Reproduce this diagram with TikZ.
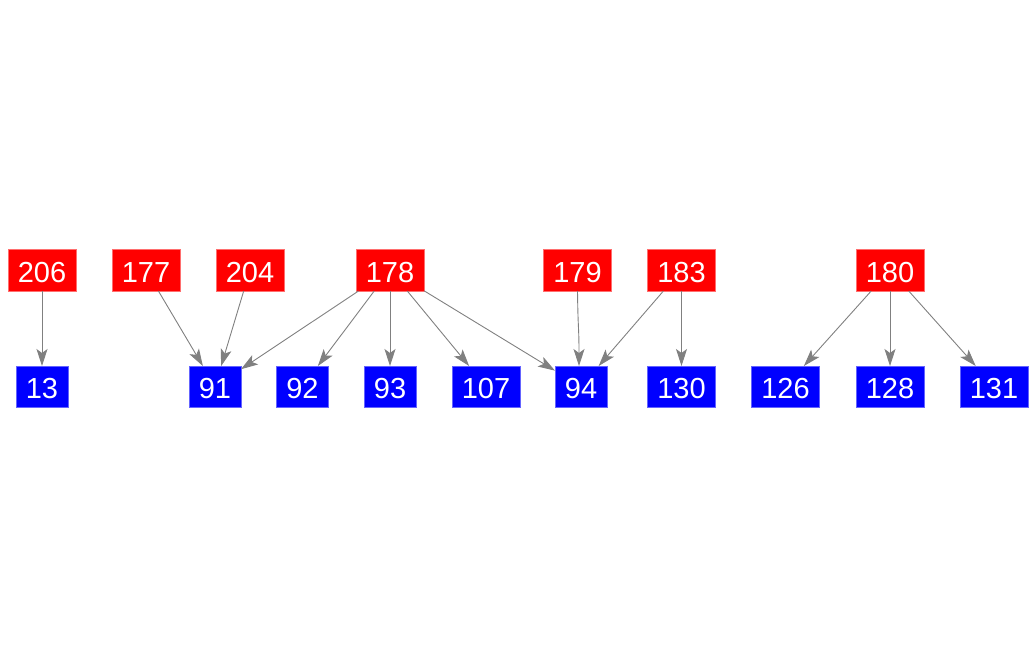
\documentclass[tikz,border=0pt]{standalone}
\usepackage{fontspec}
\setmainfont{Liberation Sans}
\usetikzlibrary{arrows.meta}
\tikzset{
  base/.style={inner sep=0pt, outer sep=0pt, text=white, font=\fontsize{29}{30}\selectfont, line width=0.6pt, text height=24pt, text depth=0pt},
  rednode/.style={base, fill={rgb,255:red,255;green,0;blue,0}, draw={rgb,255:red,255;green,110;blue,110}, minimum width=68pt, minimum height=42pt},
  bluewide/.style={base, fill={rgb,255:red,0;green,0;blue,255}, draw={rgb,255:red,100;green,100;blue,255}, minimum width=68pt, minimum height=41pt},
  bluenarrow/.style={bluewide, minimum width=52pt},
  conn/.style={draw={rgb,255:red,128;green,128;blue,128}, line width=0.9pt, -{Stealth[length=17pt,width=11pt,inset=4pt]}}
}
\begin{document}
\begin{tikzpicture}[x=1pt,y=-1pt]
\useasboundingbox (0,0) rectangle (1035,656);
\node[rednode] (n206) at (42,270) {206};
\node[rednode] (n177) at (146,270) {177};
\node[rednode] (n204) at (250,270) {204};
\node[rednode] (n178) at (390,270) {178};
\node[rednode] (n179) at (577.5,270) {179};
\node[rednode] (n183) at (681.5,270) {183};
\node[rednode] (n180) at (890,270) {180};

\node[bluenarrow] (n13) at (42,386.5) {13};
\node[bluenarrow] (n91) at (215,386.5) {91};
\node[bluenarrow] (n92) at (302.5,386.5) {92};
\node[bluenarrow] (n93) at (390,386.5) {93};
\node[bluewide] (n107) at (486,386.5) {107};
\node[bluenarrow] (n94) at (581,386.5) {94};
\node[bluewide] (n130) at (681.5,386.5) {130};
\node[bluewide] (n126) at (785.5,386.5) {126};
\node[bluewide] (n128) at (890,386.5) {128};
\node[bluewide] (n131) at (994,386.5) {131};

\coordinate (t94) at (579,366);

\draw[conn] (n206) -- (n13);
\draw[conn] (n177) -- (n91);
\draw[conn] (n204) -- (n91);
\draw[conn] (n178) -- (n91);
\draw[conn] (n178) -- (n92);
\draw[conn] (n178) -- (n93);
\draw[conn] (n178) -- (n107);
\draw[conn] (n178) -- (n94);
\draw[conn] (n179.south) .. controls +(0.5,40) and +(0,-40) .. (t94);
\draw[conn] (n183) -- (n94);
\draw[conn] (n183) -- (n130);
\draw[conn] (n180) -- (n126);
\draw[conn] (n180) -- (n128);
\draw[conn] (n180) -- (n131);
\end{tikzpicture}
\end{document}
